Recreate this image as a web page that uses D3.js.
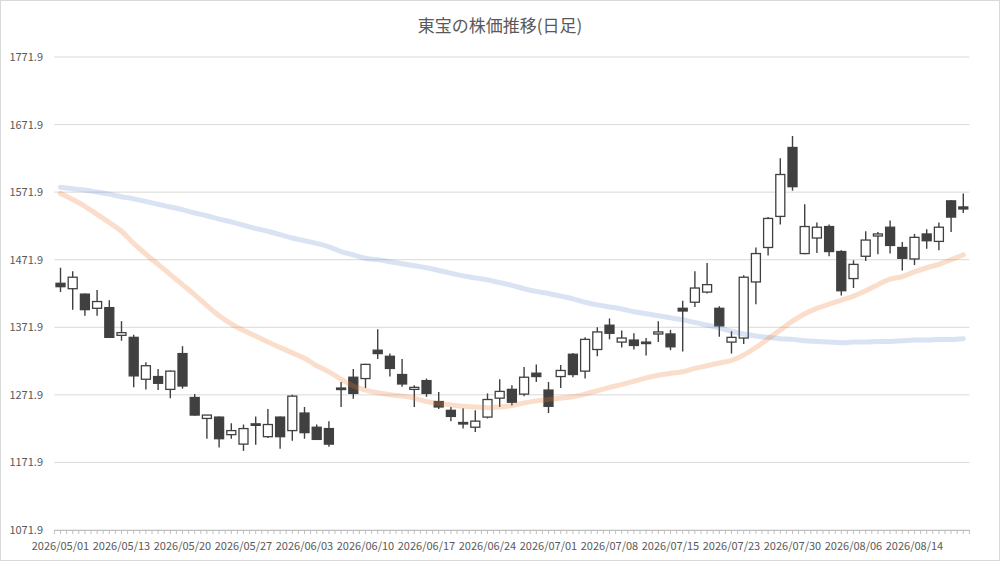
<!DOCTYPE html>
<html>
<head>
<meta charset="utf-8">
<script src="https://cdn.jsdelivr.net/npm/d3@7"></script>
<style>
body { margin: 0; background: #fff; }
text { font-family: "Noto Sans CJK JP", "Noto Sans", sans-serif; }
</style>
</head>
<body>
<svg id="svg" width="1000" height="561"></svg>
<script>
var dates = ["2026/05/01","2026/05/07","2026/05/08","2026/05/11","2026/05/12","2026/05/13","2026/05/14","2026/05/15","2026/05/18","2026/05/19",
  "2026/05/20","2026/05/21","2026/05/22","2026/05/25","2026/05/26","2026/05/27","2026/05/28","2026/05/29","2026/06/01","2026/06/02",
  "2026/06/03","2026/06/04","2026/06/05","2026/06/08","2026/06/09","2026/06/10","2026/06/11","2026/06/12","2026/06/15","2026/06/16",
  "2026/06/17","2026/06/18","2026/06/19","2026/06/22","2026/06/23","2026/06/24","2026/06/25","2026/06/26","2026/06/29","2026/06/30",
  "2026/07/01","2026/07/02","2026/07/03","2026/07/06","2026/07/07","2026/07/08","2026/07/09","2026/07/10","2026/07/13","2026/07/14",
  "2026/07/15","2026/07/16","2026/07/17","2026/07/21","2026/07/22","2026/07/23","2026/07/24","2026/07/27","2026/07/28","2026/07/29",
  "2026/07/30","2026/07/31","2026/08/03","2026/08/04","2026/08/05","2026/08/06","2026/08/07","2026/08/10","2026/08/12","2026/08/13",
  "2026/08/14","2026/08/17","2026/08/18","2026/08/19","2026/08/20"];

var open = [1437,1429,1421,1400,1401,1360,1357,1295,1299,1280, 1333,1268,1237,1239,1213,1199,1229,1210,1239,1219,
  1245,1224,1222,1282,1298,1296,1338,1329,1302,1280, 1293,1262,1249,1231,1224,1239,1267,1280,1273,1304,
  1279,1299,1332,1307,1339,1375,1350,1353,1350,1362, 1362,1400,1409,1424,1400,1350,1356,1439,1490,1536,
  1638,1481,1504,1521,1484,1444,1477,1507,1520,1490, 1473,1510,1499,1559,1550];
var high = [1460,1455,1422,1427,1412,1381,1361,1320,1310,1308, 1344,1273,1242,1240,1230,1228,1240,1251,1240,1272,
  1254,1228,1233,1291,1310,1318,1369,1333,1325,1286, 1296,1276,1254,1252,1249,1274,1295,1286,1313,1317,
  1291,1316,1334,1357,1372,1385,1367,1363,1356,1381, 1368,1411,1455,1467,1403,1366,1449,1490,1535,1622,
  1655,1554,1527,1524,1486,1471,1514,1513,1530,1498, 1510,1517,1527,1560,1570];
var low = [1424,1398,1389,1389,1356,1352,1283,1280,1279,1267, 1281,1241,1207,1194,1207,1189,1198,1208,1192,1204,
  1207,1205,1195,1254,1266,1282,1325,1299,1284,1254, 1269,1251,1233,1222,1217,1237,1254,1256,1270,1291,
  1245,1282,1298,1296,1329,1354,1342,1339,1330,1350, 1338,1336,1402,1422,1358,1333,1347,1406,1478,1524,
  1574,1480,1482,1477,1419,1430,1470,1480,1481,1456, 1464,1488,1486,1513,1541];
var close = [1432,1446,1398,1410,1357,1364,1300,1315,1289,1307, 1285,1242,1242,1207,1219,1222,1227,1228,1210,1270,
  1216,1206,1199,1280,1274,1317,1333,1311,1288,1283, 1274,1254,1240,1229,1233,1265,1277,1261,1298,1299,
  1255,1308,1302,1354,1365,1363,1356,1345,1348,1365, 1343,1396,1430,1435,1374,1357,1446,1481,1533,1598,
  1580,1521,1520,1484,1426,1465,1501,1510,1493,1474, 1505,1500,1520,1535,1547];

var ma25 = [1570,1561,1551,1539,1527,1514,1496,1480,1465,1450, 1435,1420,1404,1389,1377,1367,1359,1350,1342,1334,
  1326,1315,1306,1295,1285,1279,1275,1272,1270,1267, 1262,1259,1257,1255,1254,1253,1254,1256,1260,1263,
  1265,1267,1269,1273,1278,1283,1287,1292,1297,1301, 1304,1306,1311,1315,1319,1323,1331,1342,1355,1368,
  1381,1392,1400,1406,1412,1418,1426,1435,1443,1447, 1454,1460,1465,1472,1479];
var ma75 = [1579,1577,1575,1572,1569,1565,1562,1558,1554,1550, 1546,1541,1537,1532,1528,1523,1518,1514,1509,1504,
  1500,1496,1491,1484,1479,1474,1472,1469,1466,1463, 1460,1456,1452,1448,1445,1442,1438,1434,1429,1425,
  1422,1418,1414,1409,1405,1402,1399,1395,1392,1389, 1386,1383,1379,1375,1371,1366,1362,1359,1357,1355,
  1354,1352,1351,1350,1349,1350,1350,1351,1351,1352, 1353,1353,1354,1354,1355];

var yTicks = [1071.9,1171.9,1271.9,1371.9,1471.9,1571.9,1671.9,1771.9];

var svg = d3.select("#svg");

svg.append("rect")
  .attr("x",0.5).attr("y",0.5).attr("width",999).attr("height",560)
  .attr("fill","#fff").attr("stroke","#d9d9d9");

var x = d3.scaleBand().domain(dates).range([54.4,969.4]).padding(0);
var y = d3.scaleLinear().domain([1071.9,1771.9]).range([530,57]);

svg.append("text")
  .attr("x",500).attr("y",32)
  .attr("text-anchor","middle")
  .attr("font-size","17px")
  .attr("fill","#595959")
  .text("東宝の株価推移(日足)");

// gridlines + y labels
svg.selectAll(".grid")
  .data(yTicks)
  .enter().append("line")
  .attr("x1",54.4).attr("x2",969.4)
  .attr("y1",function(d){return y(d);})
  .attr("y2",function(d){return y(d);})
  .attr("stroke","#d9d9d9")
  .attr("stroke-width",1);

svg.selectAll(".ylab")
  .data(yTicks)
  .enter().append("text")
  .attr("x",43)
  .attr("y",function(d){return y(d)+4;})
  .attr("text-anchor","end")
  .attr("font-size","11px")
  .attr("fill","#595959")
  .text(function(d){return d.toFixed(1);});

// x axis
var xAxis = d3.axisBottom(x)
  .tickValues(dates.filter(function(d,i){return i%5==0;}))
  .tickSize(0)
  .tickPadding(12);
var gx = svg.append("g").attr("transform","translate(0,530)").call(xAxis);
gx.select(".domain").attr("stroke","#bfbfbf");
gx.selectAll("text").attr("font-size","11px").attr("fill","#595959")
  .attr("font-family","\"Noto Sans CJK JP\", sans-serif");

var halfTicks = d3.range(dates.length*2+1);
svg.selectAll(".xtick")
  .data(halfTicks)
  .enter().append("line")
  .attr("x1",function(k){return 54.4 + k*x.bandwidth()/2;})
  .attr("x2",function(k){return 54.4 + k*x.bandwidth()/2;})
  .attr("y1",530).attr("y2",534)
  .attr("stroke","#bfbfbf");

// candles
var cx = function(i){ return x(dates[i]) + x.bandwidth()/2; };
var idx = d3.range(dates.length);
var bw = 9;

svg.selectAll(".wick")
  .data(idx)
  .enter().append("line")
  .attr("x1",cx).attr("x2",cx)
  .attr("y1",function(i){return y(high[i]);})
  .attr("y2",function(i){return y(low[i]);})
  .attr("stroke","#404040")
  .attr("stroke-width",1.4);

svg.selectAll(".body")
  .data(idx)
  .enter().append("rect")
  .attr("x",function(i){return cx(i)-bw/2;})
  .attr("y",function(i){return y(Math.max(open[i],close[i]));})
  .attr("width",bw)
  .attr("height",function(i){return Math.max(1.5, Math.abs(y(open[i])-y(close[i])));})
  .attr("fill",function(i){return close[i]>=open[i] ? "#ffffff" : "#404040";})
  .attr("stroke","#404040")
  .attr("stroke-width",1.3);

// moving averages
var line = d3.line()
  .x(function(d,i){return cx(i);})
  .y(function(d){return y(d);})
  .curve(d3.curveMonotoneX);

svg.append("path")
  .attr("d",line(ma75))
  .attr("fill","none")
  .attr("stroke","#4472c4")
  .attr("stroke-opacity",0.2)
  .attr("stroke-width",5)
  .attr("stroke-linecap","round");

svg.append("path")
  .attr("d",line(ma25))
  .attr("fill","none")
  .attr("stroke","#ed7d31")
  .attr("stroke-opacity",0.25)
  .attr("stroke-width",5)
  .attr("stroke-linecap","round");
</script>
</body>
</html>
